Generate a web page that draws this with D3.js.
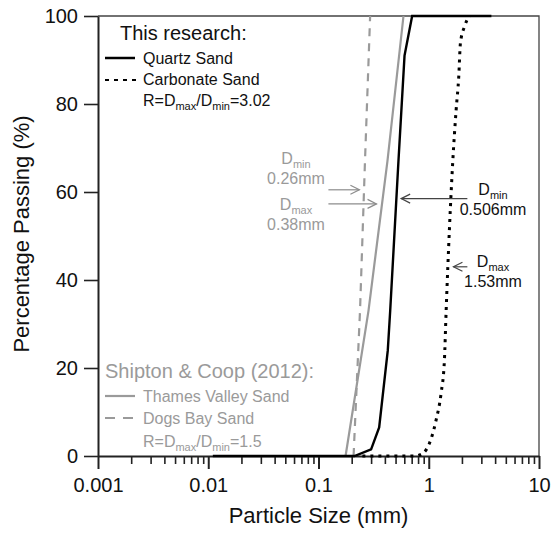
<!DOCTYPE html>
<html>
<head>
<meta charset="utf-8">
<script src="https://cdn.jsdelivr.net/npm/d3@7"></script>
<style>
  body { margin: 0; background: #fff; }
  svg { font-family: "Liberation Sans", Arial, sans-serif; }
</style>
</head>
<body>
<div id="chart"></div>
<script>
// particle size (mm) and percentage passing
const quartzSize = [0.011, 0.212, 0.30, 0.355, 0.425, 0.447, 0.531, 0.603, 0.707, 3.7];
const quartzPass = [0, 0, 1.5, 6.5, 24, 33, 67, 91, 100, 100];
const carbSize = [0.25, 0.741, 0.883, 1.015, 1.167, 1.295, 1.387, 1.438, 1.652, 1.771, 1.871, 1.937, 2.11, 2.30, 2.35];
const carbPass = [0, 0, 0.6, 2.9, 8.2, 14.3, 21.8, 33, 67, 78.6, 86.2, 93.8, 97.6, 99.7, 100];
const thamesSize = [0.176, 0.284, 0.422, 0.59];
const thamesPass = [0, 33, 67, 100];
const dogsSize = [0.208, 0.238, 0.264, 0.294];
const dogsPass = [0, 33, 67, 100];

const xTicks = [0.001, 0.01, 0.1, 1, 10];
const xTickLabels = ["0.001", "0.01", "0.1", "1", "10"];
const yTicks = [0, 20, 40, 60, 80, 100];

// arrows: [tail size, tip size, passing %]
const shiptonArrows = [[0.123, 0.235, 60.5], [0.123, 0.336, 57.3]];
const researchArrows = [[2.24, 0.562, 58.5], [2.24, 1.675, 43]];

const width = 551, height = 533;
const x = d3.scaleLog().domain([0.001, 10]).range([98, 539]);
const y = d3.scaleLinear().domain([0, 100]).range([456, 16]);

const svg = d3.select("#chart").append("svg")
  .attr("width", width).attr("height", height);

const zip = (a, b) => a.map((v, i) => [v, b[i]]);
const line = d3.line().x(d => x(d[0])).y(d => y(d[1]));

// frame (top + right)
svg.append("path")
  .attr("d", `M${x(0.001)},${y(100)}H${x(10)}V${y(0)}`)
  .attr("fill", "none").attr("stroke", "#444").attr("stroke-width", 1.3);

// minor x ticks
const minor = [];
for (let e = -3; e < 1; e++) for (let m = 2; m <= 9; m++) minor.push(m * Math.pow(10, e));
svg.append("g")
  .attr("transform", `translate(0,${y(0)})`)
  .call(d3.axisBottom(x).tickValues(minor).tickSize(8).tickSizeOuter(0).tickFormat(""))
  .call(g => g.select(".domain").remove())
  .call(g => g.selectAll("line").attr("stroke", "#222").attr("stroke-width", 1.6));

const xAxis = svg.append("g")
  .attr("transform", `translate(0,${y(0)})`)
  .call(d3.axisBottom(x).tickValues(xTicks).tickSize(13).tickSizeOuter(0).tickPadding(9)
    .tickFormat((d, i) => xTickLabels[i]));
xAxis.select(".domain").attr("stroke", "#222").attr("stroke-width", 2);
xAxis.selectAll("line").attr("stroke", "#222").attr("stroke-width", 2);
xAxis.selectAll("text").attr("font-size", 20).attr("fill", "#111").attr("font-family", null);

const yAxis = svg.append("g")
  .attr("transform", `translate(${x(0.001)},0)`)
  .call(d3.axisLeft(y).tickValues(yTicks).tickSize(14).tickSizeOuter(0).tickPadding(6));
yAxis.select(".domain").attr("stroke", "#222").attr("stroke-width", 2);
yAxis.selectAll("line").attr("stroke", "#222").attr("stroke-width", 1.6);
yAxis.selectAll("text").attr("font-size", 20).attr("fill", "#111").attr("font-family", null);

// axis titles
svg.append("text")
  .attr("x", 318.5).attr("y", 523).attr("text-anchor", "middle")
  .attr("font-size", 22).attr("fill", "#111").text("Particle Size (mm)");
svg.append("text")
  .attr("transform", "translate(29,234) rotate(-90)").attr("text-anchor", "middle")
  .attr("font-size", 22).attr("fill", "#111").text("Percentage Passing (%)");

// curves
const gray = "#9a9a9a";
svg.append("path").datum(zip(thamesSize, thamesPass))
  .attr("d", line).attr("fill", "none").attr("stroke", gray).attr("stroke-width", 2.2);
svg.append("path").datum(zip(dogsSize, dogsPass))
  .attr("d", line).attr("fill", "none").attr("stroke", gray).attr("stroke-width", 2.2)
  .attr("stroke-dasharray", "8,7");
svg.append("path").datum(zip(carbSize, carbPass))
  .attr("d", line.curve(d3.curveMonotoneX)).attr("fill", "none").attr("stroke", "#000")
  .attr("stroke-width", 3).attr("stroke-dasharray", "3,5");
line.curve(d3.curveLinear);
svg.append("path").datum(zip(quartzSize, quartzPass))
  .attr("d", line).attr("fill", "none").attr("stroke", "#000").attr("stroke-width", 2.4);

// arrows
function arrow(a, color) {
  const x0 = x(a[0]), x1 = x(a[1]), yy = y(a[2]);
  const dir = x1 > x0 ? -1 : 1;
  const g = svg.append("g").attr("stroke", color).attr("stroke-width", 1.2).attr("fill", "none");
  g.append("line").attr("x1", x0).attr("x2", x1).attr("y1", yy).attr("y2", yy);
  g.append("path").attr("d", `M${x1 + dir * 9},${yy - 4.5}L${x1},${yy}L${x1 + dir * 9},${yy + 4.5}`);
}
shiptonArrows.forEach(a => arrow(a, "#8c8c8c"));
researchArrows.forEach(a => arrow(a, "#444"));

// D labels
function dLabel(cx, yD, sub, val, color) {
  const t = svg.append("text").attr("x", cx).attr("y", yD).attr("text-anchor", "middle")
    .attr("font-size", 16).attr("fill", color);
  t.append("tspan").text("D");
  t.append("tspan").attr("font-size", 11).attr("dy", 4).text(sub);
  svg.append("text").attr("x", cx).attr("y", yD + 20).attr("text-anchor", "middle")
    .attr("font-size", 16).attr("fill", color).text(val);
}
dLabel(296, 164, "min", "0.26mm", gray);
dLabel(296, 210, "max", "0.38mm", gray);
dLabel(493, 195, "min", "0.506mm", "#111");
dLabel(493, 267, "max", "1.53mm", "#111");

// legends
function rText(xx, yy, r, color) {
  const t = svg.append("text").attr("x", xx).attr("y", yy).attr("font-size", 16).attr("fill", color);
  t.append("tspan").text("R=D");
  t.append("tspan").attr("font-size", 11).attr("dy", 4).text("max");
  t.append("tspan").attr("dy", -4).text("/D");
  t.append("tspan").attr("font-size", 11).attr("dy", 4).text("min");
  t.append("tspan").attr("dy", -4).text("=" + r);
}

svg.append("text").attr("x", 120).attr("y", 40).attr("font-size", 20).attr("fill", "#111")
  .text("This research:");
svg.append("line").attr("x1", 105).attr("x2", 135).attr("y1", 58).attr("y2", 58)
  .attr("stroke", "#000").attr("stroke-width", 2.5);
svg.append("text").attr("x", 143).attr("y", 64).attr("font-size", 16).attr("fill", "#111")
  .text("Quartz Sand");
svg.append("line").attr("x1", 105).attr("x2", 136).attr("y1", 80).attr("y2", 80)
  .attr("stroke", "#000").attr("stroke-width", 2).attr("stroke-dasharray", "4,5");
svg.append("text").attr("x", 143).attr("y", 85).attr("font-size", 16).attr("fill", "#111")
  .text("Carbonate Sand");
rText(143, 106, "3.02", "#111");

svg.append("text").attr("x", 105).attr("y", 378).attr("font-size", 20).attr("fill", gray)
  .text("Shipton & Coop (2012):");
svg.append("line").attr("x1", 105).attr("x2", 135).attr("y1", 396).attr("y2", 396)
  .attr("stroke", gray).attr("stroke-width", 2.2);
svg.append("text").attr("x", 143).attr("y", 402).attr("font-size", 16).attr("fill", gray)
  .text("Thames Valley Sand");
svg.append("line").attr("x1", 105).attr("x2", 136).attr("y1", 418).attr("y2", 418)
  .attr("stroke", gray).attr("stroke-width", 2.2).attr("stroke-dasharray", "10,8");
svg.append("text").attr("x", 143).attr("y", 424).attr("font-size", 16).attr("fill", gray)
  .text("Dogs Bay Sand");
rText(143, 447, "1.5", gray);
</script>
</body>
</html>
